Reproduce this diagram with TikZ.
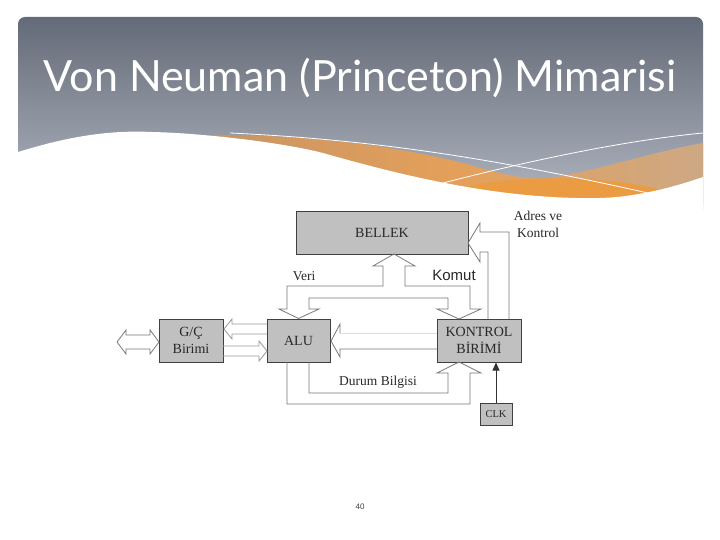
\documentclass[tikz,border=0pt]{standalone}
\usepackage{fontspec}
\setmainfont{Liberation Serif}
\newfontfamily\titlefont{Lato}
\newfontfamily\arialfont{Liberation Sans}
\usetikzlibrary{arrows.meta,calc}

\definecolor{boxgray}{RGB}{192,192,192}
\definecolor{boxline}{RGB}{64,64,64}
\definecolor{busline}{RGB}{120,120,120}
\definecolor{txt}{RGB}{40,40,40}
\definecolor{hdtop}{RGB}{100,107,120}
\definecolor{hdbot}{RGB}{178,184,194}
\definecolor{tanl}{RGB}{200,148,100}
\definecolor{tanr}{RGB}{205,168,132}
\definecolor{orng}{RGB}{228,160,90}
\definecolor{deeporng}{RGB}{235,155,65}

\begin{document}
\begin{tikzpicture}[x=1pt,y=-1pt,
  unit/.style={draw=boxline,fill=boxgray,line width=1pt,inner sep=0pt,
    font=\fontsize{14}{17}\selectfont,text=txt,align=center},
  bus/.style={draw=busline,line width=0.8pt,line join=miter},
  lbl/.style={font=\fontsize{13.5}{17}\selectfont,text=txt,align=center,inner sep=0pt}]

\useasboundingbox (0,0) rectangle (720,540);
\fill[white] (0,0) rectangle (720,540);

% header
\shade[top color=hdtop,bottom color=hdbot,rounded corners=7pt]
  (18,210) -- (18,17) -- (703,17) -- (703,210) -- cycle;
% orange band
\shade[left color=tanl,right color=tanr,middle color=orng]
  (212,135) .. controls (320,134) and (420,150) .. (480,168)
  .. controls (510,176) and (530,180) .. (550,178)
  .. controls (600,170) and (660,150) .. (703,143) -- (703,210) -- (300,210) -- cycle;
% deep orange lens
\fill[deeporng] (470,186) .. controls (530,174) and (610,176) .. (670,192)
  -- (670,205) -- (470,205) -- cycle;
% white wave
\fill[white] (18,152) .. controls (70,136) and (110,130) .. (152,132)
  .. controls (200,133) and (280,142) .. (323,153)
  .. controls (400,175) and (500,200) .. (600,198)
  .. controls (640,197) and (680,185) .. (703,177) -- (703,225) -- (18,225) -- cycle;
\draw[white,line width=0.8pt] (230,133) .. controls (380,140) and (500,160) .. (648,193);
\draw[white,line width=0.8pt] (443,183) .. controls (540,158) and (630,140) .. (703,133);

\node[font=\titlefont\fontsize{43}{48}\selectfont,text=white,anchor=base,inner sep=0pt]
  (title) at (360,92) {Von Neuman (Princeton) Mimarisi};

% units
\node[unit,minimum width=172pt,minimum height=42pt] (bellek) at (382,233) {BELLEK};
\node[unit,minimum width=64pt,minimum height=43pt] (gc) at (191,340.5) {G/Ç\\Birimi};
\node[unit,minimum width=63pt,minimum height=43pt] (alu) at (298.5,340.5) {ALU};
\node[unit,minimum width=84pt,minimum height=43pt] (kontrol) at (479,340.5) {KONTROL\\BİRİMİ};
\node[unit,minimum width=32pt,minimum height=22pt,font=\fontsize{10.5}{12}\selectfont] (clk) at (496,414) {CLK};

% Veri / Komut bus
\draw[bus] (alu.north) -- (279,309) -- (287,309) -- (287,286) -- (383,286) -- (383,266)
  -- (373,266) -- (394,254) -- (415,266) -- (405,266) -- (405,286) -- (470,286)
  -- (470,309) -- (481,309) -- (459,319) -- (437,309) -- (448,309) -- (448,298)
  -- (309,298) -- (309,309) -- (319,309) -- cycle;
% Adres ve Kontrol bus
\draw[bus] (488,319) -- (488,252) -- (480,252) -- (480,262) -- (468,243) -- (480,223)
  -- (480,232) -- (509,232) -- (509,319);
% Durum Bilgisi bus
\draw[bus] (287,362) -- (287,404) -- (470,404) -- (470,373) -- (481,373) -- (459,362)
  -- (437,373) -- (448,373) -- (448,393) -- (309,393) -- (309,362);
% Kontrol -> ALU
\draw[bus,draw=busline!25] (437,333) -- (340,333);
\draw[bus] (437,349) -- (340,349) -- (340,357) -- (331,341) -- (340,324) -- (340,333);
% G/C <-> ALU
\draw[bus,draw=busline!75] (267,324) -- (232,324) -- (232,319) -- (224,329) -- (232,339)
  -- (232,334) -- (267,334);
\draw[bus,draw=busline!75] (223,346) -- (259,346) -- (259,341) -- (267,351) -- (259,361)
  -- (259,356) -- (223,356);
% G/C external
\draw[bus] (117,342) -- (126,330) -- (126,335) -- (150,335) -- (150,330) -- (159,342)
  -- (150,354) -- (150,349) -- (126,349) -- (126,354) -- cycle;
% CLK
\draw[line width=0.8pt,black!80,-{Triangle[length=8pt,width=7pt]}]
  (clk.north) -- (clk.north |- kontrol.south);

% labels
\node[lbl] (veri) at (304,276) {Veri};
\node[lbl,font=\arialfont\fontsize{15}{17}\selectfont] (komut) at (454,275) {Komut};
\node[lbl] (adres) at (538,224.5) {Adres ve\\Kontrol};
\node[lbl] (durum) at (378,382) {Durum Bilgisi};
\node[font=\arialfont\fontsize{8}{10}\selectfont,text=black!75] (pg) at (360,507) {40};
\end{tikzpicture}
\end{document}
